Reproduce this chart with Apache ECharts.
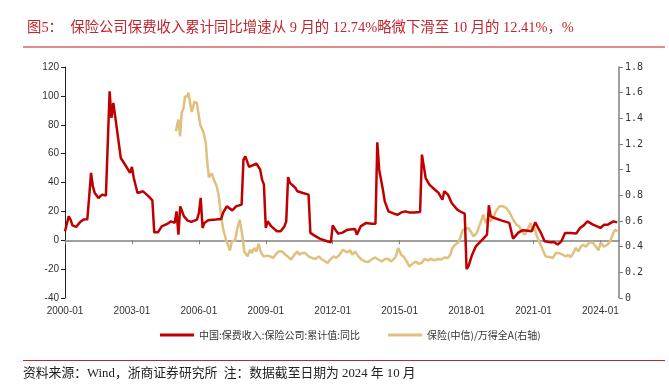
<!DOCTYPE html>
<html>
<head>
<meta charset="utf-8">
<script src="https://cdn.jsdelivr.net/npm/echarts@6/dist/echarts.min.js"></script>
<style>
html,body{margin:0;padding:0;background:#fff;}
#chart{width:669px;height:384px;}
</style>
</head>
<body>
<div id="chart"></div>
<script>
const titleText = '图5：  保险公司保费收入累计同比增速从 9 月的 12.74%略微下滑至 10 月的 12.41%，%';
const footerText = '资料来源：Wind，浙商证券研究所  注：数据截至日期为 2024 年 10 月';
const seriesNames = ['中国:保费收入:保险公司:累计值:同比', '保险(中信)/万得全A(右轴)'];
const xTickYears = [2000, 2003, 2006, 2009, 2012, 2015, 2018, 2021, 2024];

const redDates = ['2000-01','2000-03','2000-04','2000-05','2000-06','2000-07','2000-09','2000-11','2000-12',
 '2001-01','2001-02','2001-03','2001-04','2001-05','2001-06','2001-07','2001-08','2001-09','2001-10','2001-11','2001-12',
 '2002-01','2002-02','2002-03','2002-04','2002-07','2002-09','2002-12',
 '2003-01','2003-02','2003-04','2003-05','2003-07','2003-10','2003-12',
 '2004-01','2004-03','2004-05','2004-08','2004-10','2004-12',
 '2005-01','2005-02','2005-03','2005-05','2005-07','2005-09','2005-12',
 '2006-01','2006-02','2006-03','2006-04','2006-06','2006-10',
 '2007-01','2007-02','2007-03','2007-04','2007-07','2007-09','2007-12',
 '2008-01','2008-02','2008-04','2008-05','2008-08','2008-10','2008-11','2008-12',
 '2009-01','2009-02','2009-04','2009-07','2009-09','2009-11','2009-12',
 '2010-01','2010-02','2010-05','2010-06','2010-09','2010-12',
 '2011-01','2011-03','2011-06','2011-10','2011-12',
 '2012-01','2012-03','2012-04','2012-06','2012-07','2012-09',
 '2013-01','2013-02','2013-04','2013-07','2013-10','2013-12',
 '2014-01','2014-02','2014-04','2014-05','2014-07','2014-10','2014-12',
 '2015-02','2015-04','2015-06','2015-09','2015-12',
 '2016-01','2016-03','2016-05','2016-08','2016-10','2016-12',
 '2017-01','2017-03','2017-05','2017-08','2017-10','2017-12',
 '2018-01','2018-02','2018-04','2018-06','2018-10','2018-12',
 '2019-01','2019-02','2019-04','2019-05','2019-08','2019-12',
 '2020-02','2020-05','2020-07','2020-10','2020-12',
 '2021-02','2021-04','2021-05','2021-07','2021-10','2021-12',
 '2022-02','2022-04','2022-05','2022-06','2022-09','2022-12',
 '2023-02','2023-04','2023-06','2023-09',
 '2024-01','2024-03','2024-05','2024-08','2024-10'];
const redValues = [6.2,16.5,14.3,10.3,11.3,9.2,12.4,14.3,13.6,
 14.5,30,46.6,37.3,32.7,32.7,29.3,30,31.6,30.4,30.9,32,
 103.1,84.7,95.1,85.8,57,53,46.6,
 50.8,43.1,32.7,32,33.9,30.4,27.6,
 5.5,5.5,9.6,11.3,13.1,12,
 20,3.9,23.5,16.5,13.6,12.7,14.3,
 18.9,29.3,8.5,12,13.8,14.3,
 14.7,18.9,18.4,23.5,20.7,23.5,24.7,
 55.8,58.1,50.8,51.7,53,48.9,42,38.5,
 8.5,13.1,9.6,6.2,6.2,9.6,13.1,
 43.8,39.7,36.2,33.9,32.7,31.6,
 5.1,3.4,1.1,-0.7,-1.4,
 10.3,6.2,4.6,5.1,6.2,7.3,
 7.8,3.9,9.6,12,11.5,11.5,
 67.8,48.9,35,26.9,20,18.4,17.7,
 19.3,20,19.3,19.3,19.6,
 59.3,43.1,38.5,35,32.7,28.1,
 33.9,31.6,25.8,21.2,19.6,18.4,
 -19.9,-18.1,-10,-4.2,1.1,3.9,
 24.2,16.5,15.4,14.7,13.6,12,
 1.1,5.5,6.9,6.6,6.2,
 12.4,7.3,5.1,-0.7,-1.4,-1.2,
 -3,-0.7,-0.7,5.1,5.1,4.6,
 8.5,10.3,13.1,10.8,
 8.5,10.8,10.8,13.1,12.4];

const goldYears = [2004.97,2005.08,2005.16,2005.23,2005.31,2005.38,2005.48,2005.53,2005.68,2005.74,2005.80,2005.91,
 2006.06,2006.21,2006.31,2006.38,2006.45,2006.58,2006.70,2006.80,2006.89,2006.95,
 2007.02,2007.10,2007.24,2007.32,2007.39,2007.48,2007.63,2007.71,2007.83,2007.93,
 2008.04,2008.18,2008.30,2008.38,2008.48,2008.58,2008.68,2008.78,2008.90,
 2009.05,2009.20,2009.33,2009.43,2009.58,2009.73,2009.88,2009.98,
 2010.13,2010.28,2010.43,2010.50,2010.63,2010.77,2010.92,
 2011.07,2011.22,2011.37,2011.52,2011.67,2011.77,2011.89,
 2012.04,2012.16,2012.31,2012.46,2012.54,2012.65,2012.78,2012.88,
 2013.00,2013.15,2013.29,2013.45,2013.59,2013.74,2013.90,
 2014.05,2014.20,2014.35,2014.49,2014.62,2014.72,2014.83,2014.94,
 2015.07,2015.17,2015.32,2015.43,2015.58,2015.73,2015.84,2015.99,
 2016.11,2016.26,2016.41,2016.56,2016.71,2016.86,
 2017.01,2017.16,2017.27,2017.37,2017.49,2017.61,2017.72,2017.82,2017.94,
 2018.08,2018.21,2018.31,2018.46,2018.61,2018.75,2018.86,2018.97,
 2019.08,2019.19,2019.31,2019.47,2019.64,2019.79,2019.94,
 2020.09,2020.24,2020.37,2020.47,2020.61,2020.77,2020.87,2020.96,
 2021.06,2021.13,2021.28,2021.41,2021.55,2021.71,2021.86,
 2022.00,2022.16,2022.31,2022.45,2022.56,2022.66,2022.78,2022.90,
 2023.01,2023.11,2023.23,2023.35,2023.50,2023.65,2023.80,2023.91,
 2024.01,2024.16,2024.31,2024.43,2024.55,2024.65,2024.76];
const goldValues = [1.30,1.39,1.26,1.44,1.48,1.57,1.57,1.60,1.45,1.45,1.53,1.52,
 1.35,1.29,1.21,1.05,0.94,0.97,0.91,0.87,0.80,0.71,
 0.61,0.53,0.44,0.41,0.37,0.44,0.45,0.53,0.61,0.51,
 0.36,0.325,0.376,0.35,0.39,0.363,0.423,0.355,0.324,
 0.33,0.324,0.312,0.337,0.363,0.363,0.337,0.324,
 0.30,0.337,0.363,0.337,0.35,0.35,0.324,
 0.312,0.304,0.324,0.30,0.285,0.273,0.30,
 0.324,0.312,0.337,0.376,0.39,0.355,0.371,0.337,
 0.363,0.324,0.30,0.285,0.28,0.30,0.316,
 0.30,0.285,0.304,0.304,0.285,0.30,0.324,0.39,
 0.337,0.324,0.285,0.246,0.267,0.285,0.267,0.273,
 0.304,0.293,0.304,0.293,0.304,0.30,
 0.316,0.312,0.337,0.39,0.415,0.43,0.468,0.527,0.538,
 0.546,0.511,0.48,0.507,0.58,0.649,0.585,0.624,
 0.597,0.624,0.675,0.714,0.714,0.70,0.662,
 0.61,0.571,0.558,0.519,0.493,0.546,0.585,0.519,
 0.546,0.493,0.43,0.376,0.324,0.319,0.312,
 0.35,0.35,0.337,0.324,0.337,0.316,0.35,0.39,
 0.363,0.397,0.415,0.40,0.433,0.433,0.40,0.371,
 0.43,0.40,0.415,0.441,0.493,0.532,0.519];

function toYear(s){ const p = s.split('-').map(Number); return p[0] + (p[1]-1)/12; }
const redData = redDates.map((d,i)=>[toYear(d), redValues[i]]);
const goldData = goldYears.map((y,i)=>[y, goldValues[i]]);
const xMin = 2000, xMax = 2000 + 298/12;

const chart = echarts.init(document.getElementById('chart'), null, {renderer:'canvas'});
const labelFont = 'Liberation Sans, Arial, sans-serif';
chart.setOption({
  animation:false,
  backgroundColor:'#fff',
  title:{
    text:titleText, left:22, top:16,
    textStyle:{color:'#C0262C', fontSize:14.4, fontWeight:'normal', fontFamily:'Liberation Serif, "Noto Sans CJK SC", serif'}
  },
  legend:{
    left:155, top:325, itemWidth:34, itemHeight:3, itemGap:28, icon:'rect',
    textStyle:{color:'#333', fontSize:10, fontFamily:'"Noto Sans CJK SC", sans-serif'},
    data:seriesNames
  },
  grid:{left:65, right:50, top:67, bottom:86, containLabel:false},
  xAxis:[
    {type:'value', min:xMin, max:xMax, position:'bottom',
     axisLine:{show:false, onZero:false}, axisTick:{show:false}, splitLine:{show:false},
     axisLabel:{customValues:xTickYears, formatter:v=>Math.round(v)+'-01', fontSize:10, color:'#333', margin:8, fontFamily:labelFont}},
    {type:'value', min:xMin, max:xMax, position:'bottom',
     axisLine:{show:true, onZero:true, onZeroAxisIndex:0, lineStyle:{color:'#808080', width:1.5}},
     axisTick:{show:true, inside:false, length:4, customValues:xTickYears, lineStyle:{color:'#808080'}},
     axisLabel:{show:false}, splitLine:{show:false}}
  ],
  yAxis:[
    {type:'value', min:-40, max:120, interval:20, position:'left',
     axisLine:{show:true, onZero:false, lineStyle:{color:'#222', width:1}},
     axisTick:{show:true, inside:false, length:4, lineStyle:{color:'#222'}},
     axisLabel:{fontSize:10, color:'#333', margin:6, fontFamily:labelFont},
     splitLine:{show:false}},
    {type:'value', min:0, max:1.8, interval:0.2, position:'right',
     axisLine:{show:true, onZero:false, lineStyle:{color:'#808080', width:1.5}},
     axisTick:{show:true, inside:false, length:4, lineStyle:{color:'#808080'}},
     axisLabel:{fontSize:10, color:'#333', margin:6, fontFamily:'"DejaVu Sans Mono", monospace',
       formatter:v=>String(Math.round(v*10)/10)},
     splitLine:{show:false}}
  ],
  series:[
    {name:seriesNames[0], type:'line', xAxisIndex:0, yAxisIndex:0, data:redData, showSymbol:false,
     lineStyle:{color:'#C00000', width:2.5}, itemStyle:{color:'#C00000'}, z:3},
    {name:seriesNames[1], type:'line', xAxisIndex:0, yAxisIndex:1, data:goldData, showSymbol:false,
     lineStyle:{color:'#DFC07E', width:2.5}, itemStyle:{color:'#DFC07E'}, z:2}
  ],
  graphic:[
    {type:'line', shape:{x1:23, y1:47, x2:665, y2:47}, style:{stroke:'#E08C8C', lineWidth:2}},
    {type:'line', shape:{x1:23, y1:360.5, x2:665, y2:360.5}, style:{stroke:'#C0262C', lineWidth:1}},
    {type:'text', left:23, top:367, style:{text:footerText, fill:'#222', fontSize:12.8, fontFamily:'Liberation Serif, "Noto Sans CJK SC", serif'}}
  ]
});
</script>
</body>
</html>
